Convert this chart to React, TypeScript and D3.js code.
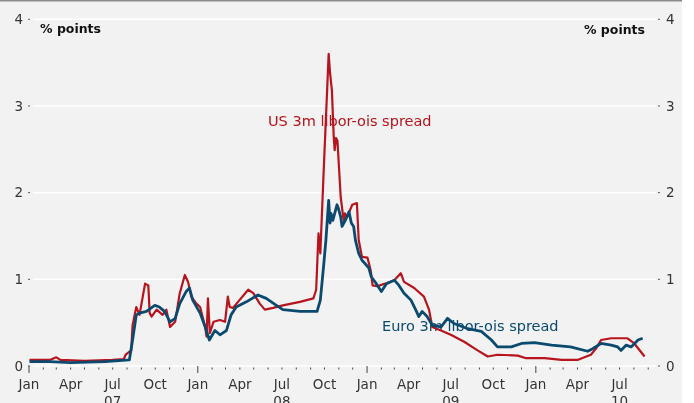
import React from "react";
import * as d3 from "d3";

const yTicks = [0, 1, 2, 3, 4];
const monthLabels: Record<number, string> = { 0: "Jan", 3: "Apr", 6: "Jul", 9: "Oct" };
const yearLabels = ["07", "08", "09", "10"];
const unitLabel = "% points";
const usLabel = "US 3m libor-ois spread";
const euroLabel = "Euro 3m libor-ois spread";

const usSeries: [string, number][] = [
  ["2007-01-02", 0.07], ["2007-02-15", 0.07], ["2007-03-01", 0.1], ["2007-03-10", 0.07],
  ["2007-05-01", 0.06], ["2007-07-01", 0.07], ["2007-07-25", 0.08], ["2007-07-29", 0.13],
  ["2007-08-10", 0.18], ["2007-08-13", 0.47], ["2007-08-21", 0.68], ["2007-08-28", 0.59],
  ["2007-09-09", 0.95], ["2007-09-16", 0.93], ["2007-09-19", 0.61], ["2007-09-23", 0.57],
  ["2007-10-04", 0.65], ["2007-10-17", 0.59], ["2007-10-25", 0.65], ["2007-11-02", 0.45],
  ["2007-11-13", 0.51], ["2007-11-23", 0.84], ["2007-12-04", 1.05], ["2007-12-11", 0.97],
  ["2007-12-18", 0.8], ["2007-12-29", 0.72], ["2008-01-06", 0.68], ["2008-01-17", 0.45],
  ["2008-01-20", 0.34], ["2008-01-23", 0.78], ["2008-01-27", 0.38], ["2008-02-04", 0.51],
  ["2008-02-18", 0.53], ["2008-02-29", 0.51], ["2008-03-06", 0.8], ["2008-03-10", 0.68],
  ["2008-03-17", 0.67], ["2008-03-28", 0.74], ["2008-04-19", 0.88], ["2008-04-30", 0.84],
  ["2008-05-14", 0.72], ["2008-05-25", 0.65], ["2008-06-12", 0.67], ["2008-07-03", 0.7],
  ["2008-08-09", 0.74], ["2008-09-07", 0.78], ["2008-09-13", 0.88], ["2008-09-18", 1.53],
  ["2008-09-22", 1.3], ["2008-09-24", 1.57], ["2008-09-29", 2.22], ["2008-10-10", 3.6],
  ["2008-10-13", 3.38], ["2008-10-17", 3.18], ["2008-10-21", 2.64], ["2008-10-23", 2.49],
  ["2008-10-26", 2.63], ["2008-10-29", 2.6], ["2008-11-05", 1.95], ["2008-11-12", 1.65],
  ["2008-11-14", 1.76], ["2008-11-19", 1.72], ["2008-11-30", 1.86], ["2008-12-10", 1.88],
  ["2008-12-14", 1.45], ["2008-12-21", 1.26], ["2009-01-02", 1.25], ["2009-01-09", 1.1],
  ["2009-01-13", 0.93], ["2009-01-23", 0.92], ["2009-02-09", 0.95], ["2009-03-01", 0.99],
  ["2009-03-15", 1.07], ["2009-03-22", 0.97], ["2009-04-13", 0.9], ["2009-05-04", 0.8],
  ["2009-05-15", 0.65], ["2009-05-22", 0.45], ["2009-06-10", 0.41], ["2009-07-01", 0.36],
  ["2009-07-30", 0.28], ["2009-08-28", 0.18], ["2009-09-19", 0.11], ["2009-10-10", 0.13],
  ["2009-11-23", 0.12], ["2009-12-11", 0.09], ["2010-01-20", 0.09], ["2010-02-26", 0.07],
  ["2010-04-01", 0.07], ["2010-04-30", 0.13], ["2010-05-11", 0.2], ["2010-05-22", 0.3],
  ["2010-06-13", 0.32], ["2010-07-18", 0.32], ["2010-08-02", 0.26], ["2010-08-24", 0.11],
];

const euroSeries: [string, number][] = [
  ["2007-01-02", 0.05], ["2007-02-15", 0.05], ["2007-04-01", 0.04], ["2007-06-15", 0.05],
  ["2007-08-06", 0.07], ["2007-08-13", 0.3], ["2007-08-21", 0.59], ["2007-08-28", 0.61],
  ["2007-09-12", 0.63], ["2007-09-30", 0.7], ["2007-10-10", 0.68], ["2007-10-21", 0.63],
  ["2007-11-02", 0.51], ["2007-11-13", 0.55], ["2007-11-23", 0.72], ["2007-12-07", 0.86],
  ["2007-12-14", 0.9], ["2007-12-21", 0.76], ["2008-01-06", 0.61], ["2008-01-17", 0.45],
  ["2008-01-26", 0.3], ["2008-02-07", 0.41], ["2008-02-18", 0.36], ["2008-03-03", 0.41],
  ["2008-03-13", 0.59], ["2008-03-24", 0.68], ["2008-04-15", 0.74], ["2008-05-10", 0.82],
  ["2008-05-28", 0.78], ["2008-06-19", 0.7], ["2008-07-03", 0.65], ["2008-08-09", 0.63],
  ["2008-09-15", 0.63], ["2008-09-22", 0.76], ["2008-09-29", 1.15], ["2008-10-04", 1.45],
  ["2008-10-10", 1.91], ["2008-10-13", 1.65], ["2008-10-15", 1.76], ["2008-10-19", 1.68],
  ["2008-10-28", 1.86], ["2008-10-31", 1.82], ["2008-11-05", 1.72], ["2008-11-08", 1.61],
  ["2008-11-15", 1.68], ["2008-11-23", 1.78], ["2008-11-28", 1.65], ["2008-12-03", 1.61],
  ["2008-12-07", 1.45], ["2008-12-14", 1.3], ["2008-12-21", 1.22], ["2008-12-28", 1.18],
  ["2009-01-05", 1.13], ["2009-01-10", 1.03], ["2009-01-21", 0.95], ["2009-02-01", 0.86],
  ["2009-02-12", 0.95], ["2009-03-01", 0.99], ["2009-03-11", 0.93], ["2009-03-22", 0.84],
  ["2009-04-06", 0.76], ["2009-04-16", 0.65], ["2009-04-23", 0.57], ["2009-04-30", 0.63],
  ["2009-05-11", 0.57], ["2009-05-22", 0.47], ["2009-06-10", 0.45], ["2009-06-24", 0.55],
  ["2009-07-08", 0.49], ["2009-08-07", 0.43], ["2009-09-05", 0.4], ["2009-09-27", 0.3],
  ["2009-10-10", 0.22], ["2009-11-09", 0.22], ["2009-12-01", 0.26], ["2009-12-29", 0.27],
  ["2010-02-04", 0.24], ["2010-03-17", 0.22], ["2010-04-23", 0.17], ["2010-05-04", 0.2],
  ["2010-05-22", 0.26], ["2010-06-13", 0.24], ["2010-06-27", 0.22], ["2010-07-04", 0.18],
  ["2010-07-15", 0.24], ["2010-07-26", 0.22], ["2010-08-10", 0.3], ["2010-08-20", 0.32],
];

const W = 694;
const H = 403;
const RED = "#b7141e";
const BLUE = "#0b4a6f";
const FONT = "'DejaVu Sans', sans-serif";

export default function App() {
  const parse = d3.timeParse("%Y-%m-%d");
  const start = new Date(2007, 0, 1);
  const end = new Date(2010, 8, 20);
  const x = d3.scaleTime().domain([start, end]).range([29, 657]);
  const y = d3.scaleLinear().domain([0, 4]).range([366, 19.3]);
  const line = d3
    .line<[string, number]>()
    .x((d) => x(parse(d[0]) as Date))
    .y((d) => y(d[1]));
  const months = d3.timeMonth.range(start, end);
  const years = d3.timeYear.range(start, end);

  return (
    <svg
      width={W}
      height={H}
      style={{ position: "fixed", left: 0, top: 0, display: "block" }}
      fontFamily={FONT}
    >
      <rect x={0} y={0} width={682} height={H} fill="#f2f2f2" />
      <line x1={0} x2={682} y1={0.75} y2={0.75} stroke="#8a8a8a" strokeWidth={1.5} />
      {yTicks.map((t) => (
        <g key={t}>
          <line x1={33} x2={656} y1={y(t)} y2={y(t)} stroke="#ffffff" strokeWidth={1.5} />
          <line x1={28} x2={30} y1={y(t)} y2={y(t)} stroke="#555" strokeWidth={1} />
          <line x1={658} x2={660} y1={y(t)} y2={y(t)} stroke="#555" strokeWidth={1} />
          <text x={23} y={y(t) + 4.8} textAnchor="end" fontSize={13.5} fill="#333">
            {t}
          </text>
          <text x={666} y={y(t) + 4.8} textAnchor="start" fontSize={13.5} fill="#333">
            {t}
          </text>
        </g>
      ))}
      <text x={40} y={33} fontSize={12.5} fontWeight="bold" fill="#111">
        {unitLabel}
      </text>
      <text x={645} y={33.5} fontSize={12.5} fontWeight="bold" fill="#111" textAnchor="end">
        {unitLabel}
      </text>
      {months.map((m, i) => {
        const isJan = m.getMonth() === 0;
        return (
          <line
            key={i}
            x1={x(m)}
            x2={x(m)}
            y1={isJan ? 366 : 367.5}
            y2={isJan ? 373 : 369.5}
            stroke="#444"
            strokeWidth={1}
          />
        );
      })}
      {months
        .filter((m) => monthLabels[m.getMonth()] !== undefined)
        .map((m, i) => (
          <text key={i} x={x(m)} y={388.5} textAnchor="middle" fontSize={13.5} fill="#333">
            {monthLabels[m.getMonth()]}
          </text>
        ))}
      {years.map((yr, i) => (
        <text
          key={i}
          x={x(new Date(yr.getFullYear(), 6, 1))}
          y={405.5}
          textAnchor="middle"
          fontSize={13.5}
          fill="#333"
        >
          {yearLabels[i]}
        </text>
      ))}
      <text x={268} y={126} fontSize={14.5} fill={RED}>
        {usLabel}
      </text>
      <text x={382} y={331} fontSize={14.5} fill={BLUE}>
        {euroLabel}
      </text>
      <path d={line(usSeries) || ""} fill="none" stroke={RED} strokeWidth={2.2} strokeLinejoin="round" />
      <path d={line(euroSeries) || ""} fill="none" stroke={BLUE} strokeWidth={2.8} strokeLinejoin="round" />
    </svg>
  );
}
